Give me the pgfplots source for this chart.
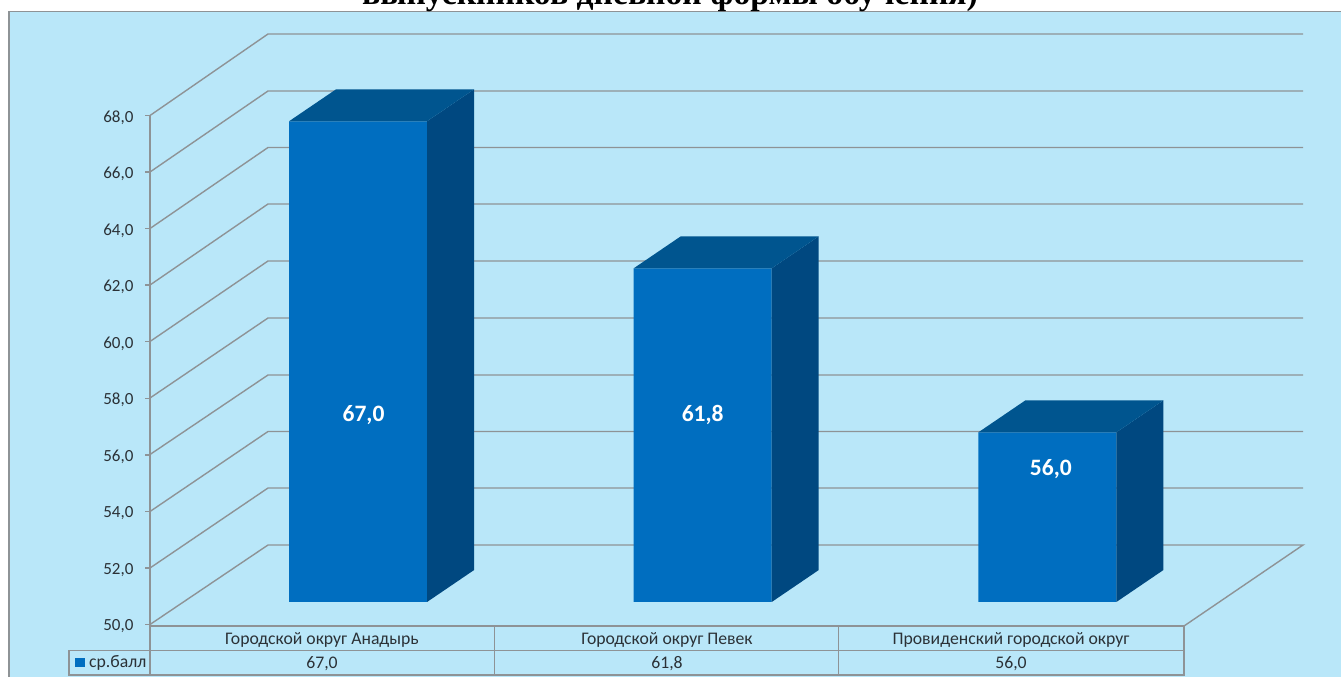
\documentclass[border=0pt]{standalone}
\usepackage{fontspec}
\setmainfont{Carlito}
\newfontfamily\titlefont{Liberation Serif}
\usepackage{pgfplots}
\pgfplotsset{compat=1.18}
\usepackage{pgfplotstable}

\definecolor{bg}{HTML}{B9E7F9}
\definecolor{gridc}{HTML}{8E9396}
\definecolor{txt}{HTML}{2B3136}
\definecolor{front}{HTML}{006EC0}
\definecolor{topf}{HTML}{00558F}
\definecolor{sidef}{HTML}{004880}

\pgfplotstableread{
x   v
0.5 67.0
1.5 61.8
2.5 56.0
}\scores

\pgfplotsset{
  pic/.style={scale only axis, anchor=south west},
  gl/.style={draw=gridc, line width=1.4pt, no markers},
}

\begin{document}
\begin{tikzpicture}
\useasboundingbox (0,0) rectangle (1341pt,677pt);
\clip (0,0) rectangle (1341pt,677pt);

% frame, walls and table, in pixels of the picture
\begin{axis}[pic, at={(0pt,0pt)}, width=1341pt, height=677pt, hide axis,
  xmin=0, xmax=1341, ymin=0, ymax=677, y dir=reverse]
\addplot[fill=bg, draw=gridc, line width=1.4pt] coordinates {(9,11.7)(1400,11.7)(1400,700)(9,700)} --cycle;
\addplot[gl] coordinates {(150,115.5)(268,34)(1303,34)};
\addplot[gl] coordinates {(150,172)(268,91)(1303,91)};
\addplot[gl] coordinates {(150,228.5)(268,147.5)(1303,147.5)};
\addplot[gl] coordinates {(150,285)(268,204)(1303,204)};
\addplot[gl] coordinates {(150,341.5)(268,261)(1303,261)};
\addplot[gl] coordinates {(150,398)(268,318)(1303,318)};
\addplot[gl] coordinates {(150,454.5)(268,375)(1303,375)};
\addplot[gl] coordinates {(150,511.5)(268,431.5)(1303,431.5)};
\addplot[gl] coordinates {(150,568)(268,488)(1303,488)};
\addplot[gl] coordinates {(150,624.5)(268,545)(1303,545)(1184,626)};
\addplot[gl] coordinates {(150,626)(1184,626)(1184,675)(69,675)(69,650.5)(1184,650.5)};
\addplot[gl] coordinates {(150,624)(150,675)};
\addplot[gl] coordinates {(494.5,626)(494.5,675)};
\addplot[gl] coordinates {(838.5,626)(838.5,675)};
\addplot[fill=front, draw=none] coordinates {(75,658)(85,658)(85,667)(75,667)} --cycle;
\node[text=txt, font=\fontsize{17.7}{20}\selectfont] at (axis cs:322,640) {Городской округ Анадырь};
\node[text=txt, font=\fontsize{17.7}{20}\selectfont] at (axis cs:667,640) {Городской округ Певек};
\node[text=txt, font=\fontsize{17.7}{20}\selectfont] at (axis cs:1011,640) {Провиденский городской округ};
\node[text=txt, font=\fontsize{17.7}{20}\selectfont, anchor=west, inner sep=0pt] at (axis cs:89,663) {ср.балл};
\node[text=txt, font=\fontsize{17.7}{20}\selectfont] at (axis cs:322,663.5) {67,0};
\node[text=txt, font=\fontsize{17.7}{20}\selectfont] at (axis cs:667,663.5) {61,8};
\node[text=txt, font=\fontsize{17.7}{20}\selectfont] at (axis cs:1011,663.5) {56,0};
\node[anchor=base, inner sep=0pt, font=\titlefont\bfseries\fontsize{33.7}{36}\selectfont] at (axis cs:670,5) {выпускников дневной формы обучения)};
\end{axis}

% value axis on the front edge
\begin{axis}[pic, at={(150pt,52.5pt)}, width=1034pt, height=509pt,
  xmin=0, xmax=3, ymin=50, ymax=68,
  axis x line=none, axis y line=left, axis line style={-, draw=gridc, line width=1.4pt},
  ytick={50,52,...,68}, tick align=outside, major tick length=5pt,
  tick style={draw=gridc, line width=1.4pt},
  yticklabel style={text=txt, font=\fontsize{17}{20}\selectfont, xshift=-8pt, yshift=-2pt},
  /pgf/number format/.cd, fixed, fixed zerofill, precision=1, use comma, assume math mode=true]
\end{axis}

% bars, on the floor a little behind the front edge
\begin{axis}[pic, at={(185.7pt,75pt)}, width=1034pt, height=509pt,
  xmin=0, xmax=3, ymin=50, ymax=68, hide axis, clip=false]
\addplot[ybar, bar width=138pt, bar shift=0pt, fill=front, draw=none] table[x=x, y=v] {\scores};
\addplot[fill=sidef, draw=none] coordinates {(0.7002,50)(0.8366,51.13)(0.8366,68.13)(0.7002,67)} --cycle;
\addplot[fill=topf, draw=none] coordinates {(0.2998,67)(0.7002,67)(0.8366,68.13)(0.4362,68.13)} --cycle;
\addplot[fill=sidef, draw=none] coordinates {(1.7002,50)(1.8366,51.13)(1.8366,62.93)(1.7002,61.8)} --cycle;
\addplot[fill=topf, draw=none] coordinates {(1.2998,61.8)(1.7002,61.8)(1.8366,62.93)(1.4362,62.93)} --cycle;
\addplot[fill=sidef, draw=none] coordinates {(2.7002,50)(2.8366,51.13)(2.8366,57.13)(2.7002,56)} --cycle;
\addplot[fill=topf, draw=none] coordinates {(2.2998,56)(2.7002,56)(2.8366,57.13)(2.4362,57.13)} --cycle;
\node[text=white, font=\bfseries\fontsize{23.5}{26}\selectfont] at (axis cs:0.516,56.62) {67,0};
\node[text=white, font=\bfseries\fontsize{23.5}{26}\selectfont] at (axis cs:1.5,56.62) {61,8};
\node[text=white, font=\bfseries\fontsize{23.5}{26}\selectfont] at (axis cs:2.51,54.71) {56,0};
\end{axis}
\end{tikzpicture}
\end{document}
